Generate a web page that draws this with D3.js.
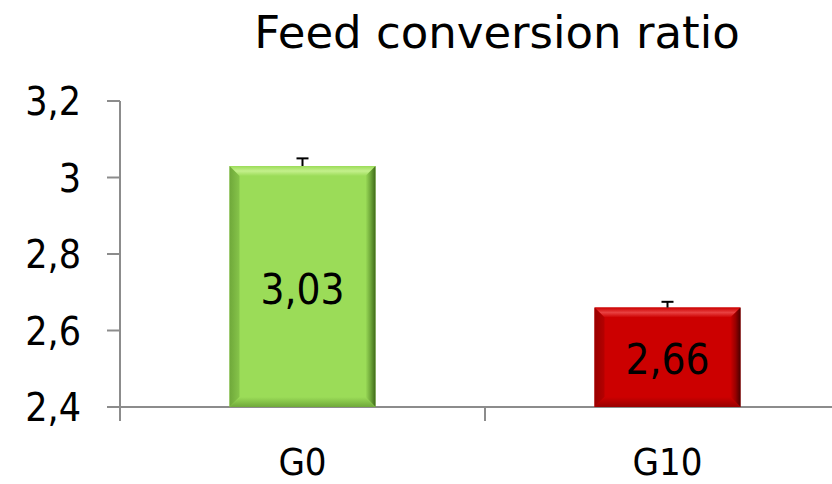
<!DOCTYPE html>
<html><head><meta charset="utf-8">
<script src="https://cdn.jsdelivr.net/npm/d3@7"></script>
<style>body{margin:0;background:#fff}svg{display:block}text{font-family:"DejaVu Sans Condensed","DejaVu Sans",sans-serif;font-stretch:condensed}.title{font-family:"DejaVu Sans",sans-serif;font-stretch:normal}</style>
</head><body><svg id="c" width="832" height="484"></svg>
<script>
const categories = ["G0", "G10"];
const values = [3.03, 2.66];
const errors = [0.02, 0.015];
const labels = ["3,03", "2,66"];
const yTicks = [2.4, 2.6, 2.8, 3.0, 3.2];
const yTickLabels = ["2,4", "2,6", "2,8", "3", "3,2"];
const colors = [
  {main:"#9bdc58", light:"#c4f08c", dark:"#3f6a1a", side:"#6fa83a", left:"#86c44a"},
  {main:"#cc0000", light:"#e84040", dark:"#4a0000", side:"#990000", left:"#b50000"}
];

const svg = d3.select("#c");
const x = d3.scaleBand().domain(categories).range([120, 850]).paddingInner(0.6).paddingOuter(0.3);
const y = d3.scaleLinear().domain([2.4, 3.2]).range([407, 101]);

svg.append("text").attr("class","title").attr("x", 497).attr("y", 48).attr("text-anchor","middle")
  .attr("font-size", 45).attr("fill","#000").text("Feed conversion ratio");

const grey = "#8c8c8c";
svg.append("line").attr("x1",120).attr("x2",120).attr("y1",y(3.2)).attr("y2",y(2.4)+14).attr("stroke",grey).attr("stroke-width",2);
svg.append("line").attr("x1",107).attr("x2",850).attr("y1",y(2.4)).attr("y2",y(2.4)).attr("stroke",grey).attr("stroke-width",2);
yTicks.forEach((t,i)=>{
  svg.append("line").attr("x1",107).attr("x2",120).attr("y1",y(t)).attr("y2",y(t)).attr("stroke",grey).attr("stroke-width",2);
  svg.append("text").attr("x",81).attr("y",y(t)+14).attr("text-anchor","end").attr("font-size",39).text(yTickLabels[i]);
});
const step = x.step();
svg.append("line").attr("x1",x("G0")+x.bandwidth()/2+step/2).attr("x2",x("G0")+x.bandwidth()/2+step/2)
  .attr("y1",y(2.4)).attr("y2",y(2.4)+14).attr("stroke",grey).attr("stroke-width",2);
categories.forEach(c=>{
  svg.append("text").attr("x",x(c)+x.bandwidth()/2).attr("y",475).attr("text-anchor","middle").attr("font-size",38).text(c);
});

const defs = svg.append("defs");
categories.forEach((c,i)=>{
  const x0 = x(c), x1 = x0 + x.bandwidth(), y0 = y(values[i]), y1 = y(2.4);
  const b = 10, col = colors[i];
  const g = svg.append("g");
  g.append("rect").attr("x",x0).attr("y",y0).attr("width",x1-x0).attr("height",y1-y0).attr("fill",col.main);
  const gt = defs.append("linearGradient").attr("id","gt"+i).attr("x1",0).attr("x2",0).attr("y1",0).attr("y2",1);
  gt.append("stop").attr("offset",0).attr("stop-color",col.main);
  gt.append("stop").attr("offset",0.5).attr("stop-color",col.light);
  gt.append("stop").attr("offset",1).attr("stop-color",col.main);
  g.append("polygon").attr("points",[[x0,y0],[x1,y0],[x1-b,y0+b],[x0+b,y0+b]].join(" ")).attr("fill","url(#gt"+i+")");
  const gl = defs.append("linearGradient").attr("id","gl"+i).attr("x1",0).attr("x2",1).attr("y1",0).attr("y2",0);
  gl.append("stop").attr("offset",0).attr("stop-color",col.side);
  gl.append("stop").attr("offset",1).attr("stop-color",col.left);
  g.append("polygon").attr("points",[[x0,y0],[x0+b,y0+b],[x0+b,y1-b],[x0,y1]].join(" ")).attr("fill","url(#gl"+i+")");
  const gr = defs.append("linearGradient").attr("id","gr"+i).attr("x1",0).attr("x2",1).attr("y1",0).attr("y2",0);
  gr.append("stop").attr("offset",0).attr("stop-color",col.main);
  gr.append("stop").attr("offset",0.5).attr("stop-color",col.side);
  gr.append("stop").attr("offset",1).attr("stop-color",col.dark);
  g.append("polygon").attr("points",[[x1,y0],[x1,y1],[x1-b,y1-b],[x1-b,y0+b]].join(" ")).attr("fill","url(#gr"+i+")");
  const gb = defs.append("linearGradient").attr("id","gb"+i).attr("x1",0).attr("x2",0).attr("y1",0).attr("y2",1);
  gb.append("stop").attr("offset",0).attr("stop-color",col.main);
  gb.append("stop").attr("offset",1).attr("stop-color",col.side);
  g.append("polygon").attr("points",[[x0,y1],[x1,y1],[x1-b,y1-b],[x0+b,y1-b]].join(" ")).attr("fill","url(#gb"+i+")");
  const cx = (x0+x1)/2, ye = y(values[i]+errors[i]);
  g.append("line").attr("x1",cx).attr("x2",cx).attr("y1",y0).attr("y2",ye).attr("stroke","#000").attr("stroke-width",2);
  g.append("line").attr("x1",cx-6).attr("x2",cx+6).attr("y1",ye).attr("y2",ye).attr("stroke","#000").attr("stroke-width",2);
  g.append("text").attr("x",cx).attr("y",i===0?304:374).attr("text-anchor","middle").attr("font-size",42).text(labels[i]);
});
</script></body></html>
